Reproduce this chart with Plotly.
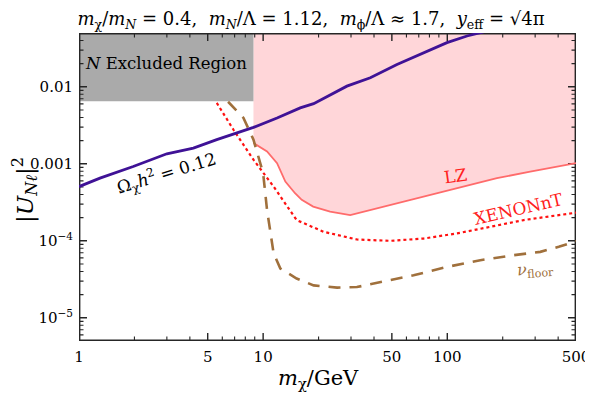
import plotly.graph_objects as go
import numpy as np

# ---- data ----
relic_x = [1.0, 1.30, 1.97, 3.0, 4.18, 5.60, 8.86, 11.9, 15.9, 18.8, 28.5, 38.2, 53.3, 74.3, 99.6, 128, 157, 220]
relic_y = [5.06e-4, 6.52e-4, 9.23e-4, 1.35e-3, 1.60e-3, 2.06e-3, 2.97e-3, 3.94e-3, 5.33e-3, 6.05e-3, 0.0102, 0.0131, 0.0195, 0.0277, 0.0375, 0.0457, 0.0516, 0.075]

lz_x = [8.86, 10.5, 11.9, 13.2, 14.9, 16.2, 18.7, 23.1, 29.7, 38.2, 53.3, 80.9, 122, 186, 282, 500]
lz_y = [1.86e-3, 1.45e-3, 1.02e-3, 5.88e-4, 4.15e-4, 3.40e-4, 2.78e-4, 2.39e-4, 2.16e-4, 2.51e-4, 3.07e-4, 3.95e-4, 5.06e-4, 6.51e-4, 7.94e-4, 1.02e-3]

xenon_x = [5.60, 6.90, 8.86, 11.4, 15.2, 21.3, 32.3, 49.0, 74.3, 113, 171, 260, 500]
xenon_y = [6.18e-3, 2.77e-3, 1.13e-3, 5.06e-4, 1.86e-4, 1.31e-4, 1.04e-4, 1.0e-4, 1.07e-4, 1.25e-4, 1.52e-4, 1.86e-4, 2.32e-4]

nu_x = [6.45, 7.82, 8.86, 10.0, 10.5, 11.4, 12.4, 14.0, 15.2, 18.8, 25.2, 32.3, 43.3, 65.6, 99.6, 151, 229, 320, 403, 500]
nu_y = [6.4e-3, 3.94e-3, 2.06e-3, 7.57e-4, 2.51e-4, 6.86e-5, 4.37e-5, 3.68e-5, 3.24e-5, 2.64e-5, 2.47e-5, 2.51e-5, 2.92e-5, 3.57e-5, 4.58e-5, 5.60e-5, 6.51e-5, 7.19e-5, 8.36e-5, 9.9e-5]

excl_x = [1.0, 8.86]
excl_ylow = 6.5e-3
x_min, x_max = 1.0, 500.0
y_bot, y_top = 5e-6, 0.05

x_ticks = [1, 5, 10, 50, 100, 500]
x_ticktext = ["1", "5", "10", "50", "100", "500"]
y_ticks = [1e-5, 1e-4, 1e-3, 1e-2]
y_ticktext = ["10<sup>−5</sup>", "10<sup>−4</sup>", "0.001", "0.01"]

FONT = "DejaVu Serif"
AXC = "#262626"

# figure geometry (page body adds an 8 px offset)
OFF = 8
W, H = 593 - OFF, 396 - OFF
ML, MR, MT, MB = 79 - OFF, 17, 33 - OFF, 55
PW, PH = W - ML - MR, H - MT - MB
xr = [np.log10(x_min), np.log10(x_max)]
yr = [np.log10(y_bot), np.log10(y_top)]
px_per_dec_x = PW / (xr[1] - xr[0])
px_per_dec_y = PH / (yr[1] - yr[0])

def fx(px):
    return 10 ** (px / px_per_dec_x)

def fy(px):
    return 10 ** (px / px_per_dec_y)

fig = go.Figure()

# LZ excluded region (pink)
fig.add_trace(go.Scatter(
    x=[lz_x[0]] + lz_x + [lz_x[-1], lz_x[0]],
    y=[y_top] + lz_y + [y_top, y_top],
    mode="lines", fill="toself", fillcolor="#ffd6d9",
    line=dict(width=0), hoverinfo="skip", showlegend=False))

# N excluded region (gray)
fig.add_trace(go.Scatter(
    x=[excl_x[0], excl_x[1], excl_x[1], excl_x[0], excl_x[0]],
    y=[excl_ylow, excl_ylow, y_top, y_top, excl_ylow],
    mode="lines", fill="toself", fillcolor="#aaaaaa",
    line=dict(width=0), hoverinfo="skip", showlegend=False))

# ---- frame and inside ticks as thin filled rectangles (from tick arrays and axis ranges) ----
x_minor = [v * 10 ** d for d in range(0, 3) for v in [2, 3, 4, 6, 7, 8, 9]]
x_minor = [v for v in x_minor if v < x_max and v not in x_ticks]
y_minor = [v * 10 ** d for d in range(-6, -1) for v in [2, 3, 4, 5, 6, 7, 8, 9]]
y_minor = [v for v in y_minor if y_bot < v < y_top]

def rect(xs, ys, x0, x1, y0, y1):
    xs += [x0, x1, x1, x0, x0, None]
    ys += [y0, y0, y1, y1, y0, None]

def tick_rects(xv, yv, length_px, width_px):
    xs, ys = [], []
    hw = width_px / 2
    for v in xv:
        if x_min < v < x_max:
            rect(xs, ys, v / fx(hw), v * fx(hw), y_bot, y_bot * fy(length_px))
            rect(xs, ys, v / fx(hw), v * fx(hw), y_top / fy(length_px), y_top)
    for v in yv:
        if y_bot < v < y_top:
            rect(xs, ys, x_min, x_min * fx(length_px), v / fy(hw), v * fy(hw))
            rect(xs, ys, x_max / fx(length_px), x_max, v / fy(hw), v * fy(hw))
    return xs, ys

mx, my = tick_rects(x_ticks, y_ticks, 8, 1.4)
nx, ny = tick_rects(x_minor, y_minor, 4.5, 1.1)
bw = 1.4
frx, fry = [], []
rect(frx, fry, x_min, x_max, y_bot, y_bot * fy(bw))
rect(frx, fry, x_min, x_max, y_top / fy(bw), y_top)
rect(frx, fry, x_min, x_min * fx(bw), y_bot, y_top)
rect(frx, fry, x_max / fx(bw), x_max, y_bot, y_top)

for xs, ys in [(nx, ny), (mx, my), (frx, fry)]:
    fig.add_trace(go.Scatter(x=xs, y=ys, mode="lines", fill="toself", fillcolor=AXC,
                             line=dict(width=0, color=AXC), hoverinfo="skip", showlegend=False))

# curves
fig.add_trace(go.Scatter(x=lz_x, y=lz_y, mode="lines",
    line=dict(color="#ff6b6b", width=1.8), showlegend=False))
fig.add_trace(go.Scatter(x=xenon_x, y=xenon_y, mode="lines",
    line=dict(color="#ff1010", width=2.2, dash="dot"), showlegend=False))
fig.add_trace(go.Scatter(x=nu_x, y=nu_y, mode="lines",
    line=dict(color="#a0703c", width=2.6, dash="12px,9px"), showlegend=False))
fig.add_trace(go.Scatter(x=relic_x, y=relic_y, mode="lines",
    line=dict(color="#3f1296", width=2.8), showlegend=False))

def ann(px, py, text, color="black", angle=0, size=15):
    lx = (px - 79) / px_per_dec_x
    ly = yr[1] - (py - 33) / px_per_dec_y
    fig.add_annotation(x=lx, y=ly, xref="x", yref="y", text=text, showarrow=False,
                       textangle=angle, font=dict(family=FONT, size=size, color=color))

ann(166, 63, "<i>N</i> Excluded Region", size=16.5)
ann(166, 173, "Ω<sub>χ</sub><i>h</i><sup>2</sup> = 0.12", angle=-17, size=17)
ann(455, 176, "LZ", color="#ff2020", angle=-8, size=17)
ann(518, 209, "XENONnT", color="#ff2020", angle=-13, size=17)
ann(535, 269, "<i>ν</i><sub>floor</sub>", color="#a0703c", angle=-5, size=16)

# axis titles as paper annotations
fig.add_annotation(x=(318 - 79) / PW, y=-(379 - 341) / PH, xref="paper", yref="paper",
                   xanchor="center", yanchor="middle",
                   text="<i>m</i><sub>χ</sub>/GeV", showarrow=False,
                   font=dict(family=FONT, size=21, color="black"))
fig.add_annotation(x=(24 - 79) / PW, y=1 - (190 - 33) / PH, xref="paper", yref="paper",
                   xanchor="center", yanchor="middle",
                   text="|<i>U</i><sub><i>Nℓ</i></sub>|<sup>2</sup>", showarrow=False, textangle=-90,
                   font=dict(family=FONT, size=23, color="black"))

axis_common = dict(showline=False, ticks="", showgrid=False, zeroline=False, automargin=False,
                   ticklabelstandoff=5, tickfont=dict(family=FONT, size=15, color="black"))

fig.update_layout(
    xaxis=dict(type="log", range=xr, tickmode="array", tickvals=x_ticks, ticktext=x_ticktext, **axis_common),
    yaxis=dict(type="log", range=yr, tickmode="array", tickvals=y_ticks, ticktext=y_ticktext, **axis_common),
    width=W, height=H,
    margin=dict(l=ML, r=MR, t=MT, b=MB),
    paper_bgcolor="white", plot_bgcolor="white",
    font=dict(family=FONT, color="black"),
    title=dict(text="<i>m</i><sub>χ</sub>/<i>m</i><sub><i>N</i></sub> = 0.4,  <i>m</i><sub><i>N</i></sub>/Λ = 1.12,  <i>m</i><sub>ϕ</sub>/Λ ≈ 1.7,  <i>y</i><sub>eff</sub> = √4π",
               x=(311 - OFF) / W, xanchor="center", y=1 - (19 - OFF) / H, yanchor="middle",
               font=dict(family=FONT, size=18, color="black")),
)

fig.write_html("out.html")
